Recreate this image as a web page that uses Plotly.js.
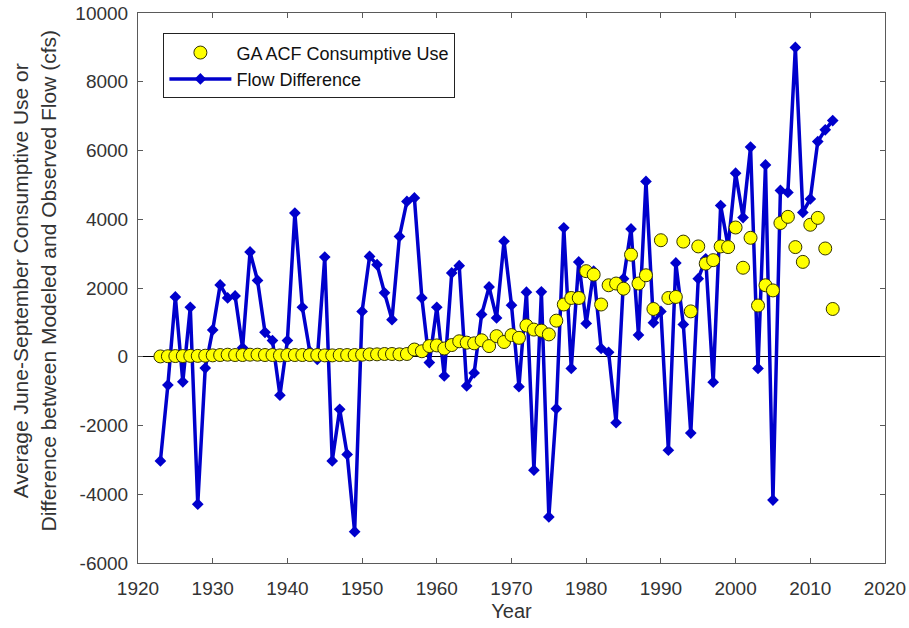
<!DOCTYPE html>
<html>
<head>
<meta charset="utf-8">
<script src="https://cdn.plot.ly/plotly-3.0.1.min.js"></script>
<style>html,body{margin:0;padding:0;background:#fff;}#chart{width:909px;height:628px;}</style>
</head>
<body>
<div id="chart"></div>
<script>
const years = [1923,1924,1925,1926,1927,1928,1929,1930,1931,1932,1933,1934,1935,1936,1937,1938,1939,1940,
1941,1942,1943,1944,1945,1946,1947,1948,1949,1950,1951,1952,1953,1954,1955,1956,1957,1958,1959,1960,
1961,1962,1963,1964,1965,1966,1967,1968,1969,1970,1971,1972,1973,1974,1975,1976,1977,1978,1979,1980,
1981,1982,1983,1984,1985,1986,1987,1988,1989,1990,1991,1992,1993,1994,1995,1996,1997,1998,1999,2000,
2001,2002,2003,2004,2005,2006,2007,2008,2009,2010,2011,2012,2013];

const flowDifference = [-3030,-825,1740,-730,1440,-4290,-330,780,2090,1710,1770,260,3050,2220,710,470,-1120,470,
4180,1440,150,-80,2900,-3030,-1530,-2840,-5090,1320,2920,2680,1860,1080,3500,4520,4620,1710,-170,1440,
-560,2440,2650,-850,-470,1230,2030,1130,3360,1500,-870,1880,-3300,1890,-4660,-1510,3750,-340,2760,970,
2490,240,130,-1920,2270,3720,630,5100,990,1320,-2720,2730,940,-2220,2270,2850,-740,4400,3210,5340,
4050,6100,-340,5580,-4170,4840,4780,9000,4200,4590,6260,6600,6870];

const consumptiveUse = [10,15,20,20,25,25,30,40,50,60,50,50,60,60,50,50,40,50,
50,50,50,50,40,40,50,50,50,60,70,70,80,80,70,80,210,160,310,330,
240,340,450,410,390,480,310,600,430,630,550,910,790,760,650,1050,1520,1710,1710,2490,
2390,1520,2080,2130,1980,2970,2130,2370,1390,3390,1710,1740,3350,1320,3210,2710,2810,3210,3190,3760,
2590,3460,1490,2080,1930,3890,4070,3190,2760,3840,4040,3150,1390];

const xTicks = [1920,1930,1940,1950,1960,1970,1980,1990,2000,2010,2020];
const yTicks = [-6000,-4000,-2000,0,2000,4000,6000,8000,10000];
const yTickText = ['-6000','-4000','-2000','0','2000','4000','6000','8000','10000'];
const yTitleText = 'Average June-September Consumptive Use or<br>Difference between Modeled and Observed Flow (cfs)';

const FONT = 'Liberation Sans, Arial, sans-serif';

const flowTrace = {
  x: years, y: flowDifference, type: 'scatter', mode: 'lines+markers',
  name: 'Flow Difference', legendrank: 2,
  line: {color: '#0000CC', width: 3.5},
  marker: {symbol: 'diamond', size: 9, color: '#0000CC'}
};
const useTrace = {
  x: years, y: consumptiveUse, type: 'scatter', mode: 'markers',
  name: 'GA ACF Consumptive Use', legendrank: 1,
  marker: {symbol: 'circle', size: 13, color: '#FFFF00', line: {color: '#333300', width: 1}}
};

const axisCommon = {
  showgrid: false, showline: true, linecolor: '#5a5a5a', linewidth: 1, mirror: 'ticks',
  ticks: 'inside', ticklen: 5, tickcolor: '#5a5a5a', tickwidth: 1,
  tickfont: {family: FONT, size: 19, color: '#333333'}
};

const layout = {
  width: 909, height: 628,
  margin: {l: 138, r: 24, t: 13, b: 65},
  paper_bgcolor: '#ffffff', plot_bgcolor: '#ffffff',
  showlegend: true,
  legend: {
    x: 0.034, y: 0.963, xanchor: 'left', yanchor: 'top',
    bgcolor: '#ffffff', bordercolor: '#222222', borderwidth: 1,
    font: {family: FONT, size: 18, color: '#111111'},
    itemwidth: 62, tracegroupgap: 0
  },
  xaxis: Object.assign({}, axisCommon, {
    range: [1920, 2020], tickvals: xTicks, zeroline: false, ticklabelstandoff: 8,
    title: {text: 'Year', font: {family: FONT, size: 20, color: '#333333'}, standoff: 6}
  }),
  yaxis: Object.assign({}, axisCommon, {
    range: [-6000, 10000], tickvals: yTicks, ticktext: yTickText, ticklabelstandoff: 5,
    zeroline: true, zerolinecolor: '#000000', zerolinewidth: 1
  }),
  annotations: [{
    text: yTitleText, xref: 'paper', yref: 'paper', x: -0.1386, y: 0.5145,
    xanchor: 'center', yanchor: 'middle', textangle: -90, showarrow: false,
    font: {family: FONT, size: 21, color: '#333333'}
  }]
};

Plotly.newPlot('chart', [flowTrace, useTrace], layout, {displayModeBar: false, staticPlot: true});
</script>
</body>
</html>
